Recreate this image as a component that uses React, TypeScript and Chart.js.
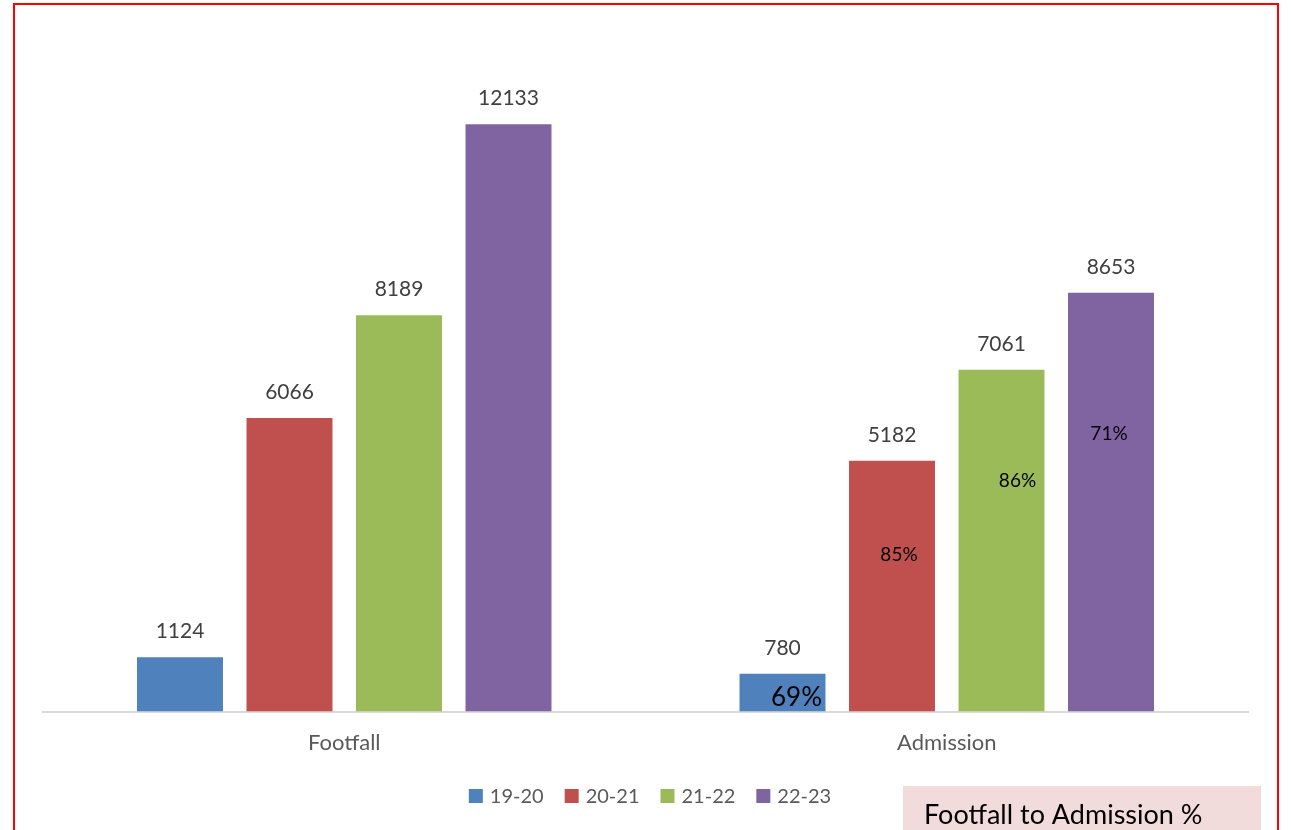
import React, { useEffect, useRef } from "react";
import { Chart, registerables } from "chart.js";

Chart.register(...registerables);

const categories = ["Footfall", "Admission"];
const seriesLabels = ["19-20", "20-21", "21-22", "22-23"];
const series1920 = [1124, 780];
const series2021 = [6066, 5182];
const series2122 = [8189, 7061];
const series2223 = [12133, 8653];
const admissionPct = ["69%", "85%", "86%", "71%"];
const boxTitle = "Footfall to Admission %";

const colors = ["#4f81bd", "#c0504d", "#9bbb59", "#8064a2"];
const FONT = "Lato, 'Open Sans', sans-serif";

// placement of the % text boxes inside the Admission bars (value-units, px offset x, font size)
const pctPlacement = [
  { v: 290, dx: 14, size: 26 },
  { v: 3230, dx: 7, size: 19 },
  { v: 4762, dx: 16, size: 19 },
  { v: 5735, dx: -2, size: 19 },
];

const decorPlugin = {
  id: "decor",
  afterDatasetsDraw(chart: any) {
    const ctx = chart.ctx;
    const yScale = chart.scales.y;
    ctx.save();
    ctx.font = `21px ${FONT}`;
    ctx.fillStyle = "#404040";
    ctx.textAlign = "center";
    ctx.textBaseline = "middle";
    chart.data.datasets.forEach((ds: any, di: number) => {
      const meta = chart.getDatasetMeta(di);
      meta.data.forEach((bar: any, i: number) => {
        ctx.fillText(String(ds.data[i]), bar.x, bar.y - 26);
      });
    });
    chart.data.datasets.forEach((ds: any, di: number) => {
      const meta = chart.getDatasetMeta(di);
      const bar = meta.data[1];
      const p = pctPlacement[di];
      ctx.font = `${p.size}px ${FONT}`;
      ctx.fillStyle = "#000000";
      ctx.fillText(admissionPct[di], bar.x + p.dx, yScale.getPixelForValue(p.v));
    });
    ctx.restore();
  },
  afterDraw(chart: any) {
    const ctx = chart.ctx;
    ctx.save();
    ctx.font = `20px ${FONT}`;
    ctx.textBaseline = "middle";
    ctx.textAlign = "left";
    const box = 14;
    const gap = 7;
    const itemPad = 21;
    const widths = chart.data.datasets.map(
      (ds: any) => box + gap + ctx.measureText(ds.label).width
    );
    const total = widths.reduce((a: number, b: number) => a + b, 0) + itemPad * (widths.length - 1);
    let x = 650 - total / 2;
    const ly = 796;
    chart.data.datasets.forEach((ds: any, i: number) => {
      ctx.fillStyle = ds.backgroundColor;
      ctx.fillRect(x, ly - box / 2, box, box);
      ctx.fillStyle = "#595959";
      ctx.fillText(ds.label, x + box + gap, ly + 1);
      x += widths[i] + itemPad;
    });
    ctx.fillStyle = "#f2dcdb";
    ctx.fillRect(903, 786, 358, 50);
    ctx.fillStyle = "#000000";
    ctx.font = `27px ${FONT}`;
    ctx.fillText(boxTitle, 924, 815);
    ctx.strokeStyle = "#ff0000";
    ctx.lineWidth = 2;
    ctx.beginPath();
    ctx.moveTo(14, 840);
    ctx.lineTo(14, 4);
    ctx.lineTo(1278, 4);
    ctx.lineTo(1278, 840);
    ctx.stroke();
    ctx.restore();
  },
};

export default function App() {
  const ref = useRef<HTMLCanvasElement>(null);
  useEffect(() => {
    document.body.style.margin = "0";
    const values = [series1920, series2021, series2122, series2223];
    const chart = new Chart(ref.current!, {
      type: "bar",
      data: {
        labels: categories,
        datasets: seriesLabels.map((l, i) => ({
          label: l,
          data: values[i],
          backgroundColor: colors[i],
          borderWidth: 0,
          barPercentage: 0.785,
          categoryPercentage: 0.727,
        })),
      },
      options: {
        animation: false,
        responsive: false,
        layout: { padding: { left: 43, right: 43, top: 34, bottom: 56 } },
        plugins: { legend: { display: false }, tooltip: { enabled: false } },
        scales: {
          y: { display: false, min: 0, max: 14000 },
          x: {
            grid: { display: false, drawTicks: false },
            border: { display: true, color: "#d9d9d9", width: 2 },
            ticks: { color: "#595959", font: { family: FONT, size: 22 }, padding: 18 },
          },
        },
      },
      plugins: [decorPlugin],
    });
    return () => chart.destroy();
  }, []);
  return (
    <div style={{ width: 1291, height: 830, position: "relative", background: "#fff" }}>
      <canvas ref={ref} width={1291} height={830} />
    </div>
  );
}
